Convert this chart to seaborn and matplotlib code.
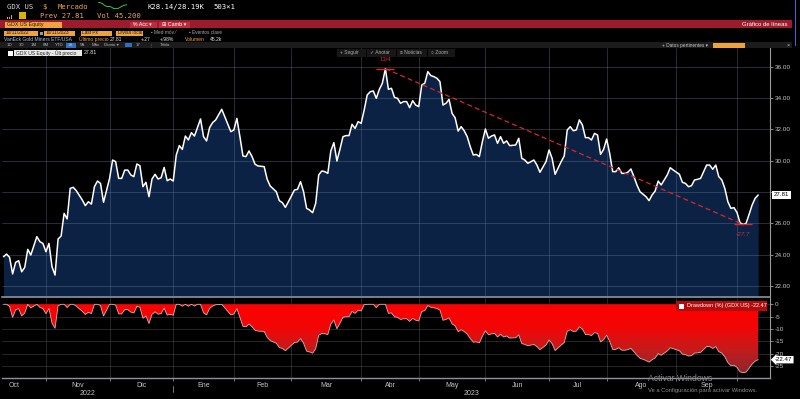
#!/usr/bin/env python
"""
GDX US - price line with max drawdown, Bloomberg style (1A window)
"""

import numpy as np
import pandas as pd
import seaborn as sns
import matplotlib.pyplot as plt
from matplotlib.patches import Rectangle
from matplotlib.colors import LinearSegmentedColormap

# trading session number counted from 11/10/2022, and last price
sessions = [1, 2, 3, 4, 5, 6, 7, 8, 9, 10, 12, 13, 14, 15, 16, 17, 18, 19, 20, 21,
            22, 23, 24, 25, 27, 28, 29, 30, 31, 32, 33, 34, 36, 37, 38, 39, 40, 41, 42, 43,
            44, 45, 46, 47, 48, 49, 50, 51, 52, 53, 54, 55, 56, 57, 58, 59, 60, 61, 62, 63,
            64, 65, 66, 67, 68, 69, 70, 71, 73, 74, 76, 77, 78, 79, 80, 81, 82, 83, 84, 85,
            87, 88, 89, 91, 92, 93, 94, 95, 97, 98, 99, 100, 101, 102, 103, 104, 105, 106, 107, 108,
            109, 110, 111, 112, 113, 114, 115, 116, 117, 118, 119, 120, 121, 122, 123, 124, 125, 126, 127, 128,
            129, 130, 131, 132, 133, 134, 135, 136, 137, 138, 139, 140, 141, 142, 143, 144, 145, 146, 147, 148,
            149, 150, 151, 152, 153, 154, 155, 156, 157, 158, 159, 160, 161, 162, 163, 164, 165, 166, 167, 168,
            170, 171, 172, 173, 174, 176, 177, 178, 180, 181, 182, 183, 185, 186, 187, 188, 189, 190, 191, 192,
            193, 194, 195, 196, 197, 198, 199, 200, 201, 202, 203, 204, 205, 206, 207, 208, 209, 210, 211, 213,
            214, 215, 216, 217, 218, 220, 221, 222, 224, 225, 226, 227, 228, 229, 230, 231, 233, 234, 235, 236,
            237, 238, 239, 240, 241, 242, 243, 244, 245, 246, 247, 248, 249, 250]
prices = [23.87, 24.04, 23.83, 22.77, 23.51, 23.62, 22.91, 23.19, 24.34, 23.98, 25.15, 24.83, 24.72, 24.19, 24.72, 23.23, 22.70, 25.00, 25.19, 26.64,
          26.28, 28.23, 28.30, 28.09, 27.49, 27.13, 27.38, 27.23, 28.34, 28.70, 28.55, 27.34, 28.87, 30.04, 29.94, 28.87, 28.87, 29.40, 29.40, 29.09,
          28.98, 29.79, 29.68, 28.34, 28.62, 27.70, 28.83, 29.13, 28.83, 28.91, 29.57, 28.72, 28.83, 28.70, 30.36, 30.96, 30.72, 31.57, 31.32, 31.79,
          31.57, 32.11, 32.66, 31.53, 31.26, 32.11, 32.43, 32.60, 33.28, 32.81, 31.85, 31.96, 32.70, 31.53, 30.30, 30.26, 30.62, 30.26, 29.77, 29.66,
          29.62, 28.81, 28.38, 28.02, 27.45, 27.32, 27.02, 27.38, 28.13, 28.17, 28.66, 28.02, 26.96, 26.85, 26.68, 27.28, 29.09, 29.34, 29.30, 29.19,
          30.62, 31.15, 29.98, 30.72, 31.53, 31.60, 31.60, 32.32, 32.06, 32.49, 32.38, 33.23, 34.19, 34.40, 34.45, 33.98, 34.55, 34.94, 35.87, 34.55,
          34.62, 34.04, 33.98, 33.66, 33.77, 33.77, 33.38, 33.83, 33.55, 33.45, 34.83, 34.94, 35.68, 35.43, 35.36, 35.26, 35.04, 33.55, 33.66, 33.91,
          33.02, 32.74, 31.89, 32.17, 31.91, 31.53, 30.89, 30.36, 30.40, 30.26, 31.21, 32.02, 31.43, 31.57, 31.64, 31.11, 31.53, 31.11, 31.26, 30.96,
          31.00, 31.43, 30.15, 30.04, 29.83, 30.04, 29.72, 29.26, 29.94, 30.68, 30.15, 29.13, 29.94, 30.30, 31.96, 32.17, 31.91, 31.96, 32.60, 32.28,
          31.47, 31.47, 31.32, 31.74, 31.64, 30.40, 30.72, 31.38, 30.47, 29.30, 29.30, 29.55, 29.19, 29.19, 29.26, 29.47, 28.98, 28.45, 28.02, 27.70,
          27.45, 27.81, 28.06, 28.70, 28.45, 29.09, 29.55, 29.40, 29.13, 28.62, 28.55, 28.34, 28.40, 28.77, 28.81, 28.87, 29.72, 29.72, 29.45, 29.72,
          28.98, 28.77, 28.23, 27.38, 26.96, 27.00, 26.70, 26.04, 25.93, 26.00, 26.57, 27.17, 27.60, 27.81]

# first session of each month (Oct 2022 starts before the window)
month_starts = [-6, 15, 36, 57, 77, 96, 119, 138, 160, 181, 200, 223, 243]
month_labels = ['Oct', 'Nov', 'Dic', 'Ene', 'Feb', 'Mar', 'Abr', 'May', 'Jun', 'Jul', 'Ago', 'Sep']
year_labels = ['2022', '2023']
price_ticks = [22, 24, 26, 28, 30, 32, 34, 36]
dd_ticks = [0, -5, -10, -15, -20, -25]
peak_label = '13/4'

W, H = 800, 399
SANS = ['Liberation Sans', 'DejaVu Sans']
MONO = ['DejaVu Sans Mono', 'DejaVu Sans']
ORANGE = '#eea33e'


def px_rect(x0, y0, x1, y1):
    return [x0 / W, 1 - y1 / H, (x1 - x0) / W, (y1 - y0) / H]


def box(fig, x0, y0, x1, y1, color, z=2):
    fig.add_artist(Rectangle((x0 / W, 1 - y1 / H), (x1 - x0) / W, (y1 - y0) / H,
                             transform=fig.transFigure, color=color, lw=0, zorder=z))


def label(fig, x, y, s, color='#c8c8c8', size=4.0, family=SANS, ha='left', **kw):
    fig.text(x / W, 1 - y / H, s, color=color, fontsize=size, family=family,
             ha=ha, va='center', zorder=5, **kw)


def header(fig, df):
    # row 1 / row 2 : ticker line
    label(fig, 7, 7, 'GDX US', '#d8d8d8', 5.2, MONO)
    label(fig, 42, 7, '$', ORANGE, 5.2, MONO)
    label(fig, 58, 7, 'Mercado', ORANGE, 5.2, MONO)
    spark = fig.add_axes(px_rect(97, 2, 128, 9))
    spark.plot(df['session'].tail(14), df['price'].tail(14), color='#3fc24a', lw=0.7)
    spark.axis('off')
    label(fig, 147, 7, 'K28.14/28.19K', 'white', 5.2, MONO)
    label(fig, 213, 7, '503×1', 'white', 5.2, MONO)
    for i, h in enumerate([1.5, 2.5, 3.5]):
        box(fig, 7 + i * 2, 19 - h, 8.3 + i * 2, 19, '#d9b400')
    box(fig, 19, 12, 26, 19, '#d9b400')
    label(fig, 40, 16, 'Prev 27.81', '#e2aa5c', 5.2, MONO)
    label(fig, 97, 16, 'Vol 45.200', '#e2aa5c', 5.2, MONO)

    # row 3 : red command bar
    box(fig, 0, 20.5, 792, 28, '#9e1b2e')
    box(fig, 5, 21.5, 62, 27.5, ORANGE, 3)
    label(fig, 7, 24.5, 'GDX US Equity', '#2a1a00', 3.8)
    box(fig, 130, 21.5, 157, 27.5, '#bd2b3d', 3)
    label(fig, 133, 24.5, '% Acc ▾', 'white', 3.8)
    box(fig, 159, 21.5, 190, 27.5, '#bd2b3d', 3)
    label(fig, 162, 24.5, '⊞ Camb ▾', 'white', 3.8)
    label(fig, 788, 24.5, 'Gráfico de líneas', 'white', 4.3, ha='right')

    # row 4 : date / field boxes
    for x0, x1, s in [(4, 38, '10/11/2022'), (44, 75, '10/11/2023'),
                      (81, 112, 'Last Px'), (116, 143, 'Divisa local')]:
        box(fig, x0, 30.5, x1, 35.5, ORANGE, 3)
        label(fig, x0 + 1.5, 33, s, '#2a1a00', 3.4)
    box(fig, 40, 31.5, 42.5, 34.5, '#9a9a9a', 3)
    label(fig, 151, 33, '▪ Med móv ⁄', '#a8a8a8', 3.4)
    label(fig, 189, 33, '▪ Eventos clave', '#a8a8a8', 3.4)

    # row 5 : security description
    label(fig, 4, 39.3, 'VanEck Gold Miners ETF/USA', '#a9c9e6', 3.6)
    label(fig, 79, 39.3, 'Último precio', ORANGE, 3.6)
    label(fig, 110, 39.3, '27.81', '#e6e6e6', 3.6)
    label(fig, 141, 39.3, '+.27', '#e6e6e6', 3.6)
    label(fig, 160, 39.3, '+.98%', '#e6e6e6', 3.6)
    label(fig, 185, 39.3, 'Volumen', ORANGE, 3.6)
    label(fig, 210, 39.3, '45.2k', '#e6e6e6', 3.6)

    # row 6 : period buttons
    box(fig, 0, 42, 792, 48, '#1c1c1c')
    box(fig, 66, 42.5, 76, 47.5, '#2f6fc4', 3)
    box(fig, 125, 43, 132, 47, '#2f6fc4', 3)
    for x, s in [(7, '1D'), (19, '3D'), (31, '1M'), (43, '6M'), (55, 'YTD'), (68, '1A'),
                 (80, '5A'), (92, 'Máx'), (104, 'Diario ▾'), (136, '17'), (148, '⋮'), (160, 'Tabla')]:
        label(fig, x, 45, s, '#b8b8b8', 3.2)
    label(fig, 662, 45, '+ Datos pertinentes ▾', '#c8c8c8', 3.4)
    box(fig, 713, 42.5, 745, 47.5, ORANGE, 3)
    label(fig, 787, 45, '×', '#c8c8c8', 4)
    box(fig, 794.5, 0, 796, 46, '#2d6fd6')

    # row 7 : legend and toolbar inside the plot
    box(fig, 8, 50.5, 13, 55.5, 'white', 4)
    box(fig, 14.5, 50, 82, 56, '#e8e8e8', 4)
    label(fig, 16, 53, 'GDX US Equity - Últ precio', '#222222', 3.6)
    label(fig, 84, 53, '27.81', '#e8e8e8', 3.8)
    for x0, x1, s in [(337, 366, '+ Seguir'), (367, 396, '✓ Anotar'),
                      (397, 427, '≡ Noticias'), (428, 455, '○ Zoom')]:
        box(fig, x0, 48.5, x1, 56.5, '#171717', 4)
        label(fig, x0 + 3, 52.5, s, '#b0b0b0', 3.5)


def main():
    sns.set_theme(style='dark', rc={'figure.facecolor': 'black', 'axes.facecolor': 'black',
                                    'savefig.facecolor': 'black'})
    plt.rcParams['font.family'] = SANS

    df = pd.DataFrame({'session': sessions, 'price': prices})
    df['drawdown'] = (df['price'] / df['price'].cummax() - 1) * 100

    x_range = (0.5, 253.9)
    price_range = (21.3, 37.19)
    dd_range = (-29.9, 2.55)
    grid_pos = month_starts[1:]
    centers = [(a + b) / 2 for a, b in zip(month_starts[:-1], month_starts[1:])]
    year_start = month_starts[month_labels.index('Ene')]
    last = df['price'].iloc[-1]
    dd_last = df['drawdown'].iloc[-1]

    fig = plt.figure(figsize=(W / 100, H / 100), dpi=100)
    ax = fig.add_axes(px_rect(2, 48, 770, 297))
    ax2 = fig.add_axes(px_rect(2, 298, 770, 378))

    # ---- price panel
    ax.fill_between(df['session'], df['price'], price_range[0], color='#0b2244', lw=0, zorder=1)
    sns.lineplot(data=df, x='session', y='price', ax=ax, color='white', lw=1.1, zorder=4)
    ax.set_xlim(*x_range)
    ax.set_ylim(*price_range)
    ax.set_xticks(grid_pos)
    ax.set_yticks(price_ticks)
    # the last-price tag hides the tick label it sits on
    ax.set_yticklabels(['' if abs(v - last) < 1 else f'{v:.2f}' for v in price_ticks])
    ax.grid(True, color='#6d7f99', alpha=0.42, lw=0.6)
    ax.set_axisbelow(False)
    ax.yaxis.tick_right()
    ax.tick_params(axis='x', length=0, labelbottom=False)
    ax.tick_params(axis='y', right=True, left=False, length=2, width=0.6, color='#9a9a9a',
                   labelcolor='#c4c4c4', labelsize=4.6, pad=1.5)
    ax.set_xlabel('')
    ax.set_ylabel('')
    for side in ['top', 'left']:
        ax.spines[side].set_visible(False)
    ax.spines['right'].set(color='#9a9a9a', lw=0.8, visible=True)
    ax.spines['bottom'].set(color='#8c939c', lw=1.2, visible=True)

    # max drawdown markers
    i_pk = df['price'].idxmax()
    i_mn = df['price'].iloc[i_pk:].idxmin()
    s_pk, pk = df.loc[i_pk, 'session'], df.loc[i_pk, 'price']
    s_mn, mn = df.loc[i_mn, 'session'], df.loc[i_mn, 'price']
    ax.plot([s_pk, s_mn], [pk, mn], color='#d8262b', ls=(0, (4, 2.5)), lw=0.9, zorder=5)
    ax.hlines([pk, mn], [s_pk - 3, s_mn - 3], [s_pk + 3, s_mn + 3], color='#e02828', lw=1.0, zorder=5)
    ax.annotate(peak_label, (s_pk, pk), xytext=(0, 6.5), textcoords='offset points',
                ha='center', va='center', color='#e03030', fontsize=4.2)
    ax.annotate(f'{(mn / pk - 1) * 100:.1f}', (s_mn, mn), xytext=(0, -7.5), textcoords='offset points',
                ha='center', va='center', color='#c83434', fontsize=4.6, style='italic')

    ax.annotate(f'{last:.2f}', xy=(1, last), xycoords=ax.get_yaxis_transform(), xytext=(2.5, 0),
                textcoords='offset points', ha='left', va='center', fontsize=4.4, color='black',
                bbox=dict(boxstyle='square,pad=0.3', fc='white', ec='none'),
                annotation_clip=False, zorder=10)

    # ---- drawdown panel
    red = LinearSegmentedColormap.from_list('dd', ['#8a2830', '#c41c1c', '#f20606', '#ff0000'])
    area = ax2.fill_between(df['session'], df['drawdown'], 0, color='none', lw=0)
    grad = ax2.imshow(np.linspace(0, 1, 256).reshape(-1, 1), cmap=red, origin='lower',
                      aspect='auto', extent=[x_range[0], x_range[1], df['drawdown'].min(), 0], zorder=1)
    grad.set_clip_path(area.get_paths()[0], transform=ax2.transData)
    sns.lineplot(data=df, x='session', y='drawdown', ax=ax2, color='#dcb0b0', lw=0.6, zorder=3)
    ax2.set_xlim(*x_range)
    ax2.set_ylim(*dd_range)
    ax2.set_xticks(grid_pos)
    ax2.set_xticks(centers, minor=True)
    ax2.set_xticklabels(month_labels, minor=True)
    ax2.set_yticks(dd_ticks)
    ax2.set_yticklabels([str(v) for v in dd_ticks])
    ax2.grid(True, which='major', color='#4a4a4a', alpha=0.6, lw=0.6)
    ax2.set_axisbelow(True)
    ax2.yaxis.tick_right()
    ax2.tick_params(axis='x', which='major', bottom=True, length=2.5, width=0.6, color='#8a8a8a',
                    labelbottom=False)
    ax2.tick_params(axis='x', which='minor', bottom=True, length=0, labelsize=5,
                    labelcolor='#c4c4c4', pad=3)
    ax2.tick_params(axis='y', right=True, left=False, length=2, width=0.6, color='#9a9a9a',
                    labelcolor='#c4c4c4', labelsize=4.6, pad=1.5)
    ax2.set_xlabel('')
    ax2.set_ylabel('')
    for side in ['top', 'left']:
        ax2.spines[side].set_visible(False)
    ax2.spines['right'].set(color='#9a9a9a', lw=0.8, visible=True)
    ax2.spines['bottom'].set(color='#8c939c', lw=1.0, visible=True)

    year_centers = [(x_range[0] + year_start) / 2, (year_start + x_range[1]) / 2]
    for c, s in zip(year_centers, year_labels):
        ax2.annotate(s, xy=(c, 0), xycoords=('data', 'axes fraction'), xytext=(0, -11),
                     textcoords='offset points', ha='center', va='center',
                     color='#c4c4c4', fontsize=5, annotation_clip=False)
    ax2.plot([year_start, year_start], [-0.1, -0.17], transform=ax2.get_xaxis_transform(),
             color='#8a8a8a', lw=0.6, clip_on=False)

    ax2.annotate(f'{dd_last:.2f}', xy=(1, dd_last), xycoords=ax2.get_yaxis_transform(),
                 xytext=(3.5, 0), textcoords='offset points', ha='left', va='center',
                 fontsize=4.4, color='black',
                 bbox=dict(boxstyle='larrow,pad=0.2', fc='white', ec='none'),
                 annotation_clip=False, zorder=10)

    # drawdown legend
    box(fig, 676, 301, 767, 310.5, '#b30c0c', 4)
    box(fig, 679, 303.5, 684, 308.5, 'white', 5)
    label(fig, 687, 306, f'Drawdown (%) (GDX US) {dd_last:.2f}', 'white', 4.0)

    header(fig, df)

    # windows activation watermark (over the axis labels, as in the screenshot)
    label(fig, 648, 378.5, 'Activar Windows', '#8c8c8c', 6.2)
    label(fig, 648, 390.5, 'Ve a Configuración para activar Windows.', '#8c8c8c', 4.2)

    fig.savefig('out.png', dpi=100, facecolor='black')


if __name__ == '__main__':
    main()
